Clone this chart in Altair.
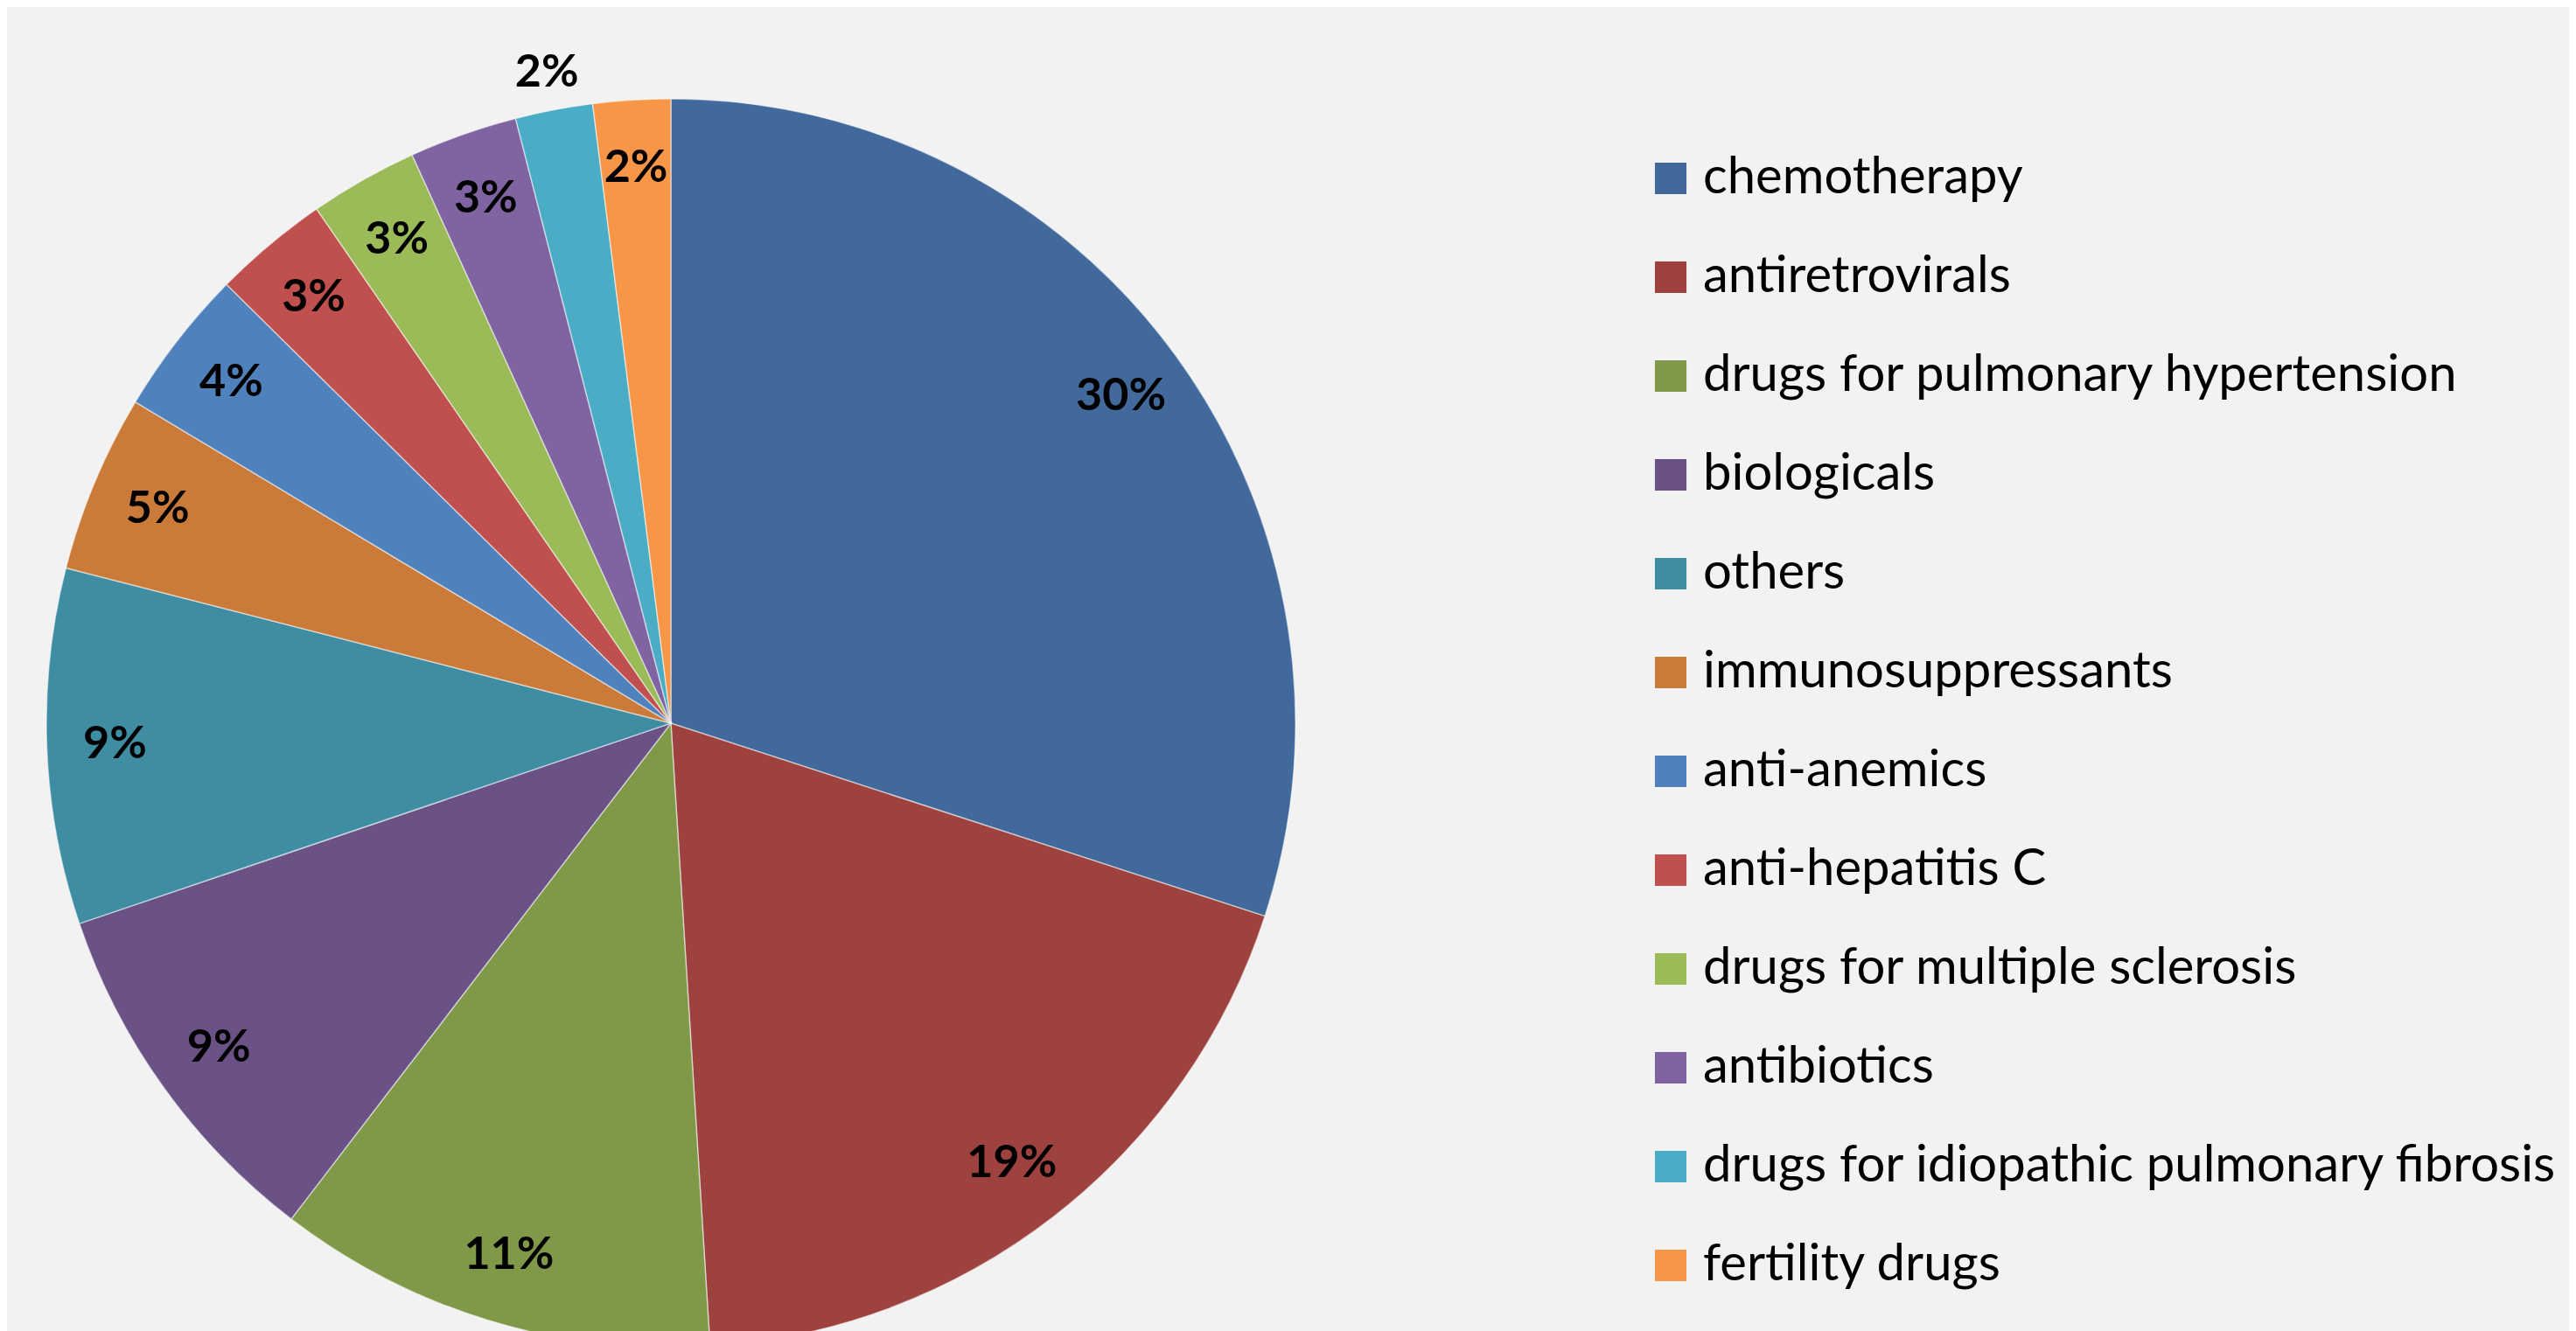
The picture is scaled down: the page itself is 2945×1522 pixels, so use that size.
import altair as alt
import pandas as pd

categories = [
    "chemotherapy",
    "antiretrovirals",
    "drugs for pulmonary hypertension",
    "biologicals",
    "others",
    "immunosuppressants",
    "anti-anemics",
    "anti-hepatitis C",
    "drugs for multiple sclerosis",
    "antibiotics",
    "drugs for idiopathic pulmonary fibrosis",
    "fertility drugs",
]
values = [30.0, 19.0, 11.4, 9.4, 9.2, 4.6, 3.8, 3.0, 2.8, 2.8, 2.0, 2.0]
labels = ["30%", "19%", "11%", "9%", "9%", "5%", "4%", "3%", "3%", "3%", "2%", "2%"]
colors = [
    "#41699B", "#9D423F", "#7F9949", "#6A5287", "#3E8DA3", "#CB7B39",
    "#4F81BD", "#C0504D", "#9BBB59", "#8064A2", "#4BACC6", "#F79646",
]
outside_label = "drugs for idiopathic pulmonary fibrosis"

df = pd.DataFrame({
    "category": categories,
    "value": values,
    "label": labels,
    "idx": list(range(len(categories))),
})

W, H = 2929, 1514
CX, CY = 759, 819
R = 714
FONT = "Lato"

theta = alt.Theta("value:Q", stack=True)
order = alt.Order("idx:Q", sort="ascending")

pie = alt.Chart(df).mark_arc(
    outerRadius=R, stroke="#ffffff", strokeWidth=1.5, strokeOpacity=0.5
).encode(
    theta=theta,
    order=order,
    x=alt.value(CX),
    y=alt.value(CY),
    color=alt.Color(
        "category:N",
        scale=alt.Scale(domain=categories, range=colors),
        legend=alt.Legend(
            title=None,
            orient="none",
            legendX=1873,
            legendY=167,
            symbolType="square",
            symbolSize=1300,
            symbolStrokeWidth=0,
            labelFont=FONT,
            labelFontSize=58,
            labelColor="#000000",
            labelLimit=3000,
            labelOffset=8,
            rowPadding=55,
            padding=0,
        ),
    ),
)

text_in = alt.Chart(df).transform_calculate(
    t=f"datum.category == '{outside_label}' ? '' : datum.label"
).mark_text(
    radius=636, font=FONT, fontSize=52, fontWeight="bold", color="#000000"
).encode(
    theta=theta,
    order=order,
    detail="category:N",
    x=alt.value(CX),
    y=alt.value(CY),
    text="t:N",
)

text_out = alt.Chart(df).transform_calculate(
    t=f"datum.category == '{outside_label}' ? datum.label : ''"
).mark_text(
    radius=757, font=FONT, fontSize=52, fontWeight="bold", color="#000000"
).encode(
    theta=theta,
    order=order,
    detail="category:N",
    x=alt.value(CX),
    y=alt.value(CY),
    text="t:N",
)

chart = alt.layer(pie, text_in, text_out).properties(
    width=W, height=H, padding=0, autosize="none", background="#f2f2f2"
).configure_view(stroke=None)

chart.save("out.html", embed_options={"renderer": "svg", "actions": False})
